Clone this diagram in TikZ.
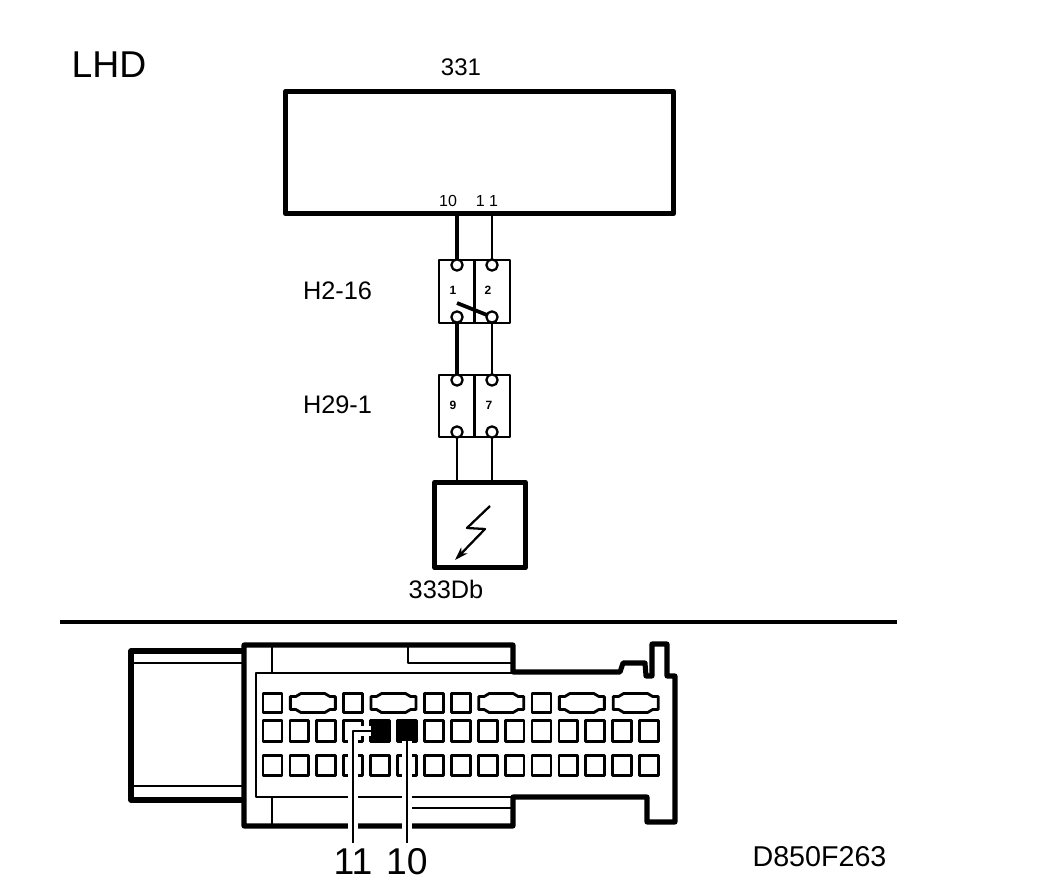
\documentclass[tikz,border=0pt]{standalone}
\usepackage{fontspec}
\setmainfont{Liberation Sans}
\usetikzlibrary{arrows.meta}
\tikzset{
  box/.style={draw,line width=3.8pt,inner sep=0pt,outer sep=0pt},
  conn/.style={draw,line width=1.9pt,inner sep=0pt,outer sep=0pt,minimum width=53pt},
  term/.style={draw,circle,fill=white,line width=1.7pt,inner sep=0pt,minimum size=8.5pt,outer sep=0pt},
  cavity/.style={draw,line width=2.1pt,inner sep=0pt,outer sep=0pt,minimum width=14.2pt},
  filled/.style={cavity,fill=black},
  wirea/.style={line width=2.3pt},
  wireb/.style={line width=1.5pt},
  leader/.style={line width=2.2pt},
  halo/.style={white,line width=7.5pt},
  keycav/.pic={
    \draw[line width=2.1pt,line join=round] (-22.5,-6.5) -- (-17,-6.5) -- (-12,-9.5) -- (12,-9.5) -- (17,-6.5) -- (22.5,-6.5)
      -- (22.5,6.5) -- (17,6.5) -- (12,9.5) -- (-12,9.5) -- (-17,6.5) -- (-22.5,6.5) -- cycle;
  }
}
\begin{document}
\begin{tikzpicture}[x=0.75pt,y=-0.75pt,line join=round]
\useasboundingbox (0,0) rectangle (1056,892);

% top half
\node[font=\fontsize{28}{30}\selectfont] (lhd) at (109,65) {LHD};
\node[font=\fontsize{18}{20}\selectfont] (name331) at (461,67) {331};
\node[box,minimum width=291pt,minimum height=92pt] (ecu) at (479.5,152.5) {};
\node[font=\fontsize{12}{14}\selectfont] (pin10) at (448,201) {10};
\node[font=\fontsize{12}{14}\selectfont] (pin11) at (487,201) {1 1};

\node[conn,minimum height=47pt] (h216) at (474.5,291.5) {};
\node[conn,minimum height=46.5pt] (h291) at (474.5,406) {};
\draw[line width=1.6pt] (h216.north) -- (h216.south);
\draw[line width=1.6pt] (h291.north) -- (h291.south);
\node[font=\fontsize{19}{21}\selectfont] (nameh216) at (337.5,291) {H2-16};
\node[font=\fontsize{19}{21}\selectfont] (nameh291) at (337.5,405) {H29-1};
\node[box,line width=4pt,minimum width=68pt,minimum height=64pt] (relay) at (480,525) {};
\node[font=\fontsize{19}{21}\selectfont] (name333) at (446,589) {333Db};

\node[term] (a1) at (457,265) {};
\node[term] (b1) at (492,265) {};
\node[term] (a2) at (457,317) {};
\node[term] (b2) at (492,317) {};
\node[term] (a3) at (457,380) {};
\node[term] (b3) at (492,380) {};
\node[term] (a4) at (457,432) {};
\node[term] (b4) at (492,432) {};

\draw[wirea] (a1) -- (a1 |- ecu.south);
\draw[wireb] (b1) -- (b1 |- ecu.south);
\draw[wirea] (a2) -- (a3);
\draw[wireb] (b2) -- (b3);
\draw[wireb] (a4) -- (a4 |- relay.north);
\draw[wireb] (b4) -- (b4 |- relay.north);

\node[font=\fontsize{9}{10}\selectfont\bfseries] (n1) at (453,290) {1};
\node[font=\fontsize{9}{10}\selectfont\bfseries] (n2) at (488,290) {2};
\node[font=\fontsize{9}{10}\selectfont\bfseries] (n9) at (453,405) {9};
\node[font=\fontsize{9}{10}\selectfont\bfseries] (n7) at (489,405) {7};

\draw[line width=2.8pt] (457,303) -- (b2);
\draw[line width=1.7pt,-{Stealth[length=10pt,width=6.5pt]}] (490,506) -- (467,528) -- (485,529) -- (455,560);

% divider
\draw[line width=3.2pt] (60,622) -- (897,622);

% connector body
\draw[line width=3.8pt] (244,651) -- (131,651) -- (131,800) -- (244,800);
\draw[line width=1.8pt] (133,663) -- (244,663);
\draw[line width=1.8pt] (133,786) -- (244,786);
\draw[line width=3.8pt] (244,645) -- (513,645) -- (513,672) -- (620,672) -- (623,663) -- (645,663)
  -- (646,676) -- (652,676) -- (652,644) -- (667,644) -- (667,676) -- (675,676) -- (675,822)
  -- (647,822) -- (647,797) -- (513,797) -- (513,826) -- (244,826) -- cycle;
\draw[line width=2pt] (513,673) -- (256,673) -- (256,797) -- (513,797);
\draw[line width=1.8pt] (272,645) -- (272,673);
\draw[line width=1.8pt] (272,797) -- (272,826);
\draw[line width=2pt] (408,645) -- (408,663) -- (513,663);
\draw[line width=2pt] (412,808) -- (513,808);

% cavities
\foreach \i in {0,3,6,7,10}
  \node[cavity,minimum height=14.5pt] (c1-\i) at ({272.5+26.9*\i},703) {};
\foreach \i in {1,4,8,11,13}
  \pic at ({272.5+26.9*(\i+0.5)},703) {keycav};
\foreach \i in {0,1,2,3,6,7,8,9,10,11,12,13,14}
  \node[cavity,minimum height=15.5pt] (c2-\i) at ({272.5+26.9*\i},731) {};
\foreach \i in {4,5}
  \node[filled,minimum height=15.5pt] (c2-\i) at ({272.5+26.9*\i},731) {};
\foreach \i in {0,...,14}
  \node[cavity,minimum height=15pt] (c3-\i) at ({272.5+26.9*\i},765.5) {};

% leaders
\node[font=\fontsize{28}{30}\selectfont,inner sep=0pt,outer sep=4.5pt] (lbl11) at (353,862) {11};
\node[font=\fontsize{28}{30}\selectfont,inner sep=0pt,outer sep=4.5pt] (lbl10) at (c2-5 |- lbl11) {10};
\draw[halo] (c2-4.west) -| (lbl11.north);
\draw[halo] (c2-5.south) -- (lbl10.north);
\draw[leader] (c2-4.west) -| (lbl11.north);
\draw[leader] (c2-5.south) -- (lbl10.north);

\node[font=\fontsize{21.5}{23}\selectfont] (code) at (819.5,857) {D850F263};
\end{tikzpicture}
\end{document}
